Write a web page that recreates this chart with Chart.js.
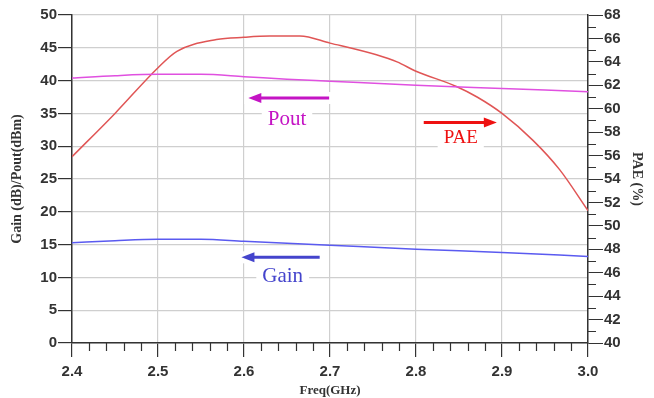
<!DOCTYPE html>
<html>
<head>
<meta charset="utf-8">
<script src="https://cdn.jsdelivr.net/npm/chart.js@4.4.0/dist/chart.umd.min.js"></script>
<style>
  html, body { margin: 0; padding: 0; background: #fff; }
  #wrap { width: 654px; height: 398px; }
</style>
</head>
<body>
<div id="wrap"><canvas id="chart" width="654" height="398"></canvas></div>
<script>
// frequency points (GHz) for each trace
const poutFreq = [2.40, 2.45, 2.50, 2.55, 2.60, 2.65, 2.70, 2.80, 2.90, 3.00];
const poutValues = [40.4, 40.75, 40.95, 40.95, 40.6, 40.2, 39.9, 39.3, 38.8, 38.3];

const gainFreq = [2.40, 2.45, 2.50, 2.55, 2.60, 2.70, 2.80, 2.90, 3.00];
const gainValues = [15.3, 15.6, 15.8, 15.8, 15.5, 14.9, 14.3, 13.8, 13.2];

const paeFreq = [2.40, 2.45, 2.50, 2.522, 2.568, 2.60, 2.63, 2.665, 2.70, 2.754, 2.778, 2.80, 2.847, 2.871, 2.90, 2.936, 2.967, 3.00];
const paeValues = [55.9, 59.6, 63.5, 64.9, 65.9, 66.1, 66.2, 66.2, 65.6, 64.6, 64.0, 63.2, 61.9, 61.0, 59.6, 57.3, 54.8, 51.3];

// annotation arrows: [label, fromX, toX, yLeft, textX, textY, color]
const notes = [
    ['Pout', 2.699, 2.605, 37.35, 2.65, 34.0, '#c414c4'],
    ['PAE', 2.809, 2.894, 33.6, 2.852, 31.3, '#ee1111'],
    ['Gain', 2.688, 2.597, 13.06, 2.645, 10.1, '#4444cc']
];

const tickFont = { family: 'Liberation Sans', size: 15, weight: 'bold' };
const titleFont = { family: 'Liberation Serif', size: 14, weight: 'bold' };

function toPoints(xs, ys) {
    return xs.map((x, i) => ({ x: x, y: ys[i] }));
}

// minor ticks on x axis (every 0.02) and right axis (every 1)
const minorTicks = {
    id: 'minorTicks',
    afterDraw(chart) {
        const ctx = chart.ctx;
        const xs = chart.scales.x, yr = chart.scales.y2;
        ctx.save();
        ctx.strokeStyle = '#333';
        ctx.lineWidth = 1.2;
        ctx.beginPath();
        for (let i = 0; i <= 30; i++) {
            if (i % 5 === 0) continue;
            const px = Math.round(xs.getPixelForValue(2.4 + i * 0.02)) + 0.5;
            ctx.moveTo(px, xs.top);
            ctx.lineTo(px, xs.top + 8);
        }
        for (let v = 41; v < 68; v += 2) {
            const py = Math.round(yr.getPixelForValue(v)) + 0.5;
            ctx.moveTo(yr.left, py);
            ctx.lineTo(yr.left + 8, py);
        }
        ctx.stroke();
        ctx.restore();
    }
};

// arrows and labels
const arrowNotes = {
    id: 'arrowNotes',
    afterDatasetsDraw(chart) {
        const ctx = chart.ctx;
        const xs = chart.scales.x, ys = chart.scales.y;
        ctx.save();
        notes.forEach(n => {
            const [label, fx, tx, yv, lx, ly, color] = n;
            const x1 = xs.getPixelForValue(fx), x2 = xs.getPixelForValue(tx);
            const y = ys.getPixelForValue(yv);
            const dir = Math.sign(x2 - x1);
            ctx.fillStyle = '#fff';
            ctx.fillRect(Math.min(x1, x2) - 4, y - 6, Math.abs(x2 - x1) + 8, 12);
            ctx.strokeStyle = color;
            ctx.fillStyle = color;
            ctx.lineWidth = 3;
            ctx.beginPath();
            ctx.moveTo(x1, y);
            ctx.lineTo(x2 - dir * 10, y);
            ctx.stroke();
            ctx.beginPath();
            ctx.moveTo(x2, y);
            ctx.lineTo(x2 - dir * 13, y - 5);
            ctx.lineTo(x2 - dir * 13, y + 5);
            ctx.closePath();
            ctx.fill();

            const px = xs.getPixelForValue(lx), py = ys.getPixelForValue(ly);
            ctx.font = (label === 'PAE' ? '19px' : '21px') + ' "Liberation Serif"';
            const w = ctx.measureText(label).width;
            ctx.fillStyle = '#fff';
            ctx.fillRect(px - w / 2 - 6, py - 12, w + 12, 24);
            ctx.fillStyle = color;
            ctx.textAlign = 'center';
            ctx.textBaseline = 'middle';
            ctx.fillText(label, px, py);
        });
        ctx.restore();
    }
};

const ctx = document.getElementById('chart').getContext('2d');
new Chart(ctx, {
    type: 'scatter',
    data: {
        datasets: [
            {
                label: 'Pout',
                data: toPoints(poutFreq, poutValues),
                borderColor: '#e050e0',
                borderWidth: 1.5,
                showLine: true,
                pointRadius: 0,
                cubicInterpolationMode: 'monotone',
                yAxisID: 'y'
            },
            {
                label: 'Gain',
                data: toPoints(gainFreq, gainValues),
                borderColor: '#5a5af0',
                borderWidth: 1.5,
                showLine: true,
                pointRadius: 0,
                cubicInterpolationMode: 'monotone',
                yAxisID: 'y'
            },
            {
                label: 'PAE',
                data: toPoints(paeFreq, paeValues),
                borderColor: '#e05555',
                borderWidth: 1.5,
                showLine: true,
                pointRadius: 0,
                cubicInterpolationMode: 'monotone',
                yAxisID: 'y2'
            }
        ]
    },
    options: {
        responsive: false,
        animation: false,
        layout: { padding: { left: 0, right: 0, top: 15, bottom: 0 } },
        plugins: {
            legend: { display: false },
            tooltip: { enabled: false }
        },
        scales: {
            x: {
                type: 'linear',
                min: 2.4,
                max: 3.0,
                afterFit: s => { s.height = 55; },
                afterBuildTicks: s => {
                    s.ticks = [2.4, 2.5, 2.6, 2.7, 2.8, 2.9, 3.0].map(v => ({ value: v }));
                },
                border: { color: '#333', width: 1.5 },
                grid: { color: '#cfcfcf', lineWidth: 1.2, tickColor: '#333', tickLength: 14 },
                ticks: {
                    color: '#333',
                    font: tickFont,
                    padding: 6,
                    maxRotation: 0,
                    autoSkip: false,
                    callback: v => v.toFixed(1)
                },
                title: {
                    display: true,
                    text: 'Freq(GHz)',
                    color: '#333',
                    font: { family: 'Liberation Serif', size: 13, weight: 'bold' },
                    padding: { top: 0, bottom: 0 }
                }
            },
            y: {
                position: 'left',
                min: 0,
                max: 50,
                afterFit: s => { s.width = 72; },
                border: { color: '#333', width: 1.5 },
                grid: { color: '#cfcfcf', lineWidth: 1.2, tickColor: '#333', tickLength: 14 },
                ticks: {
                    stepSize: 5,
                    color: '#333',
                    font: tickFont,
                    padding: 1
                },
                title: {
                    display: true,
                    text: 'Gain (dB)/Pout(dBm)',
                    color: '#333',
                    font: titleFont,
                    padding: { top: 9, bottom: 0 }
                }
            },
            y2: {
                position: 'right',
                min: 40,
                max: 68,
                afterFit: s => { s.width = 66; },
                border: { color: '#333', width: 1.5 },
                grid: { drawOnChartArea: false, tickColor: '#333', tickLength: 15 },
                ticks: {
                    stepSize: 2,
                    color: '#333',
                    font: tickFont,
                    padding: 1
                },
                title: {
                    display: true,
                    text: 'PAE (%)',
                    color: '#333',
                    font: titleFont,
                    padding: { top: 9, bottom: 0 }
                }
            }
        }
    },
    plugins: [minorTicks, arrowNotes]
});
</script>
</body>
</html>
